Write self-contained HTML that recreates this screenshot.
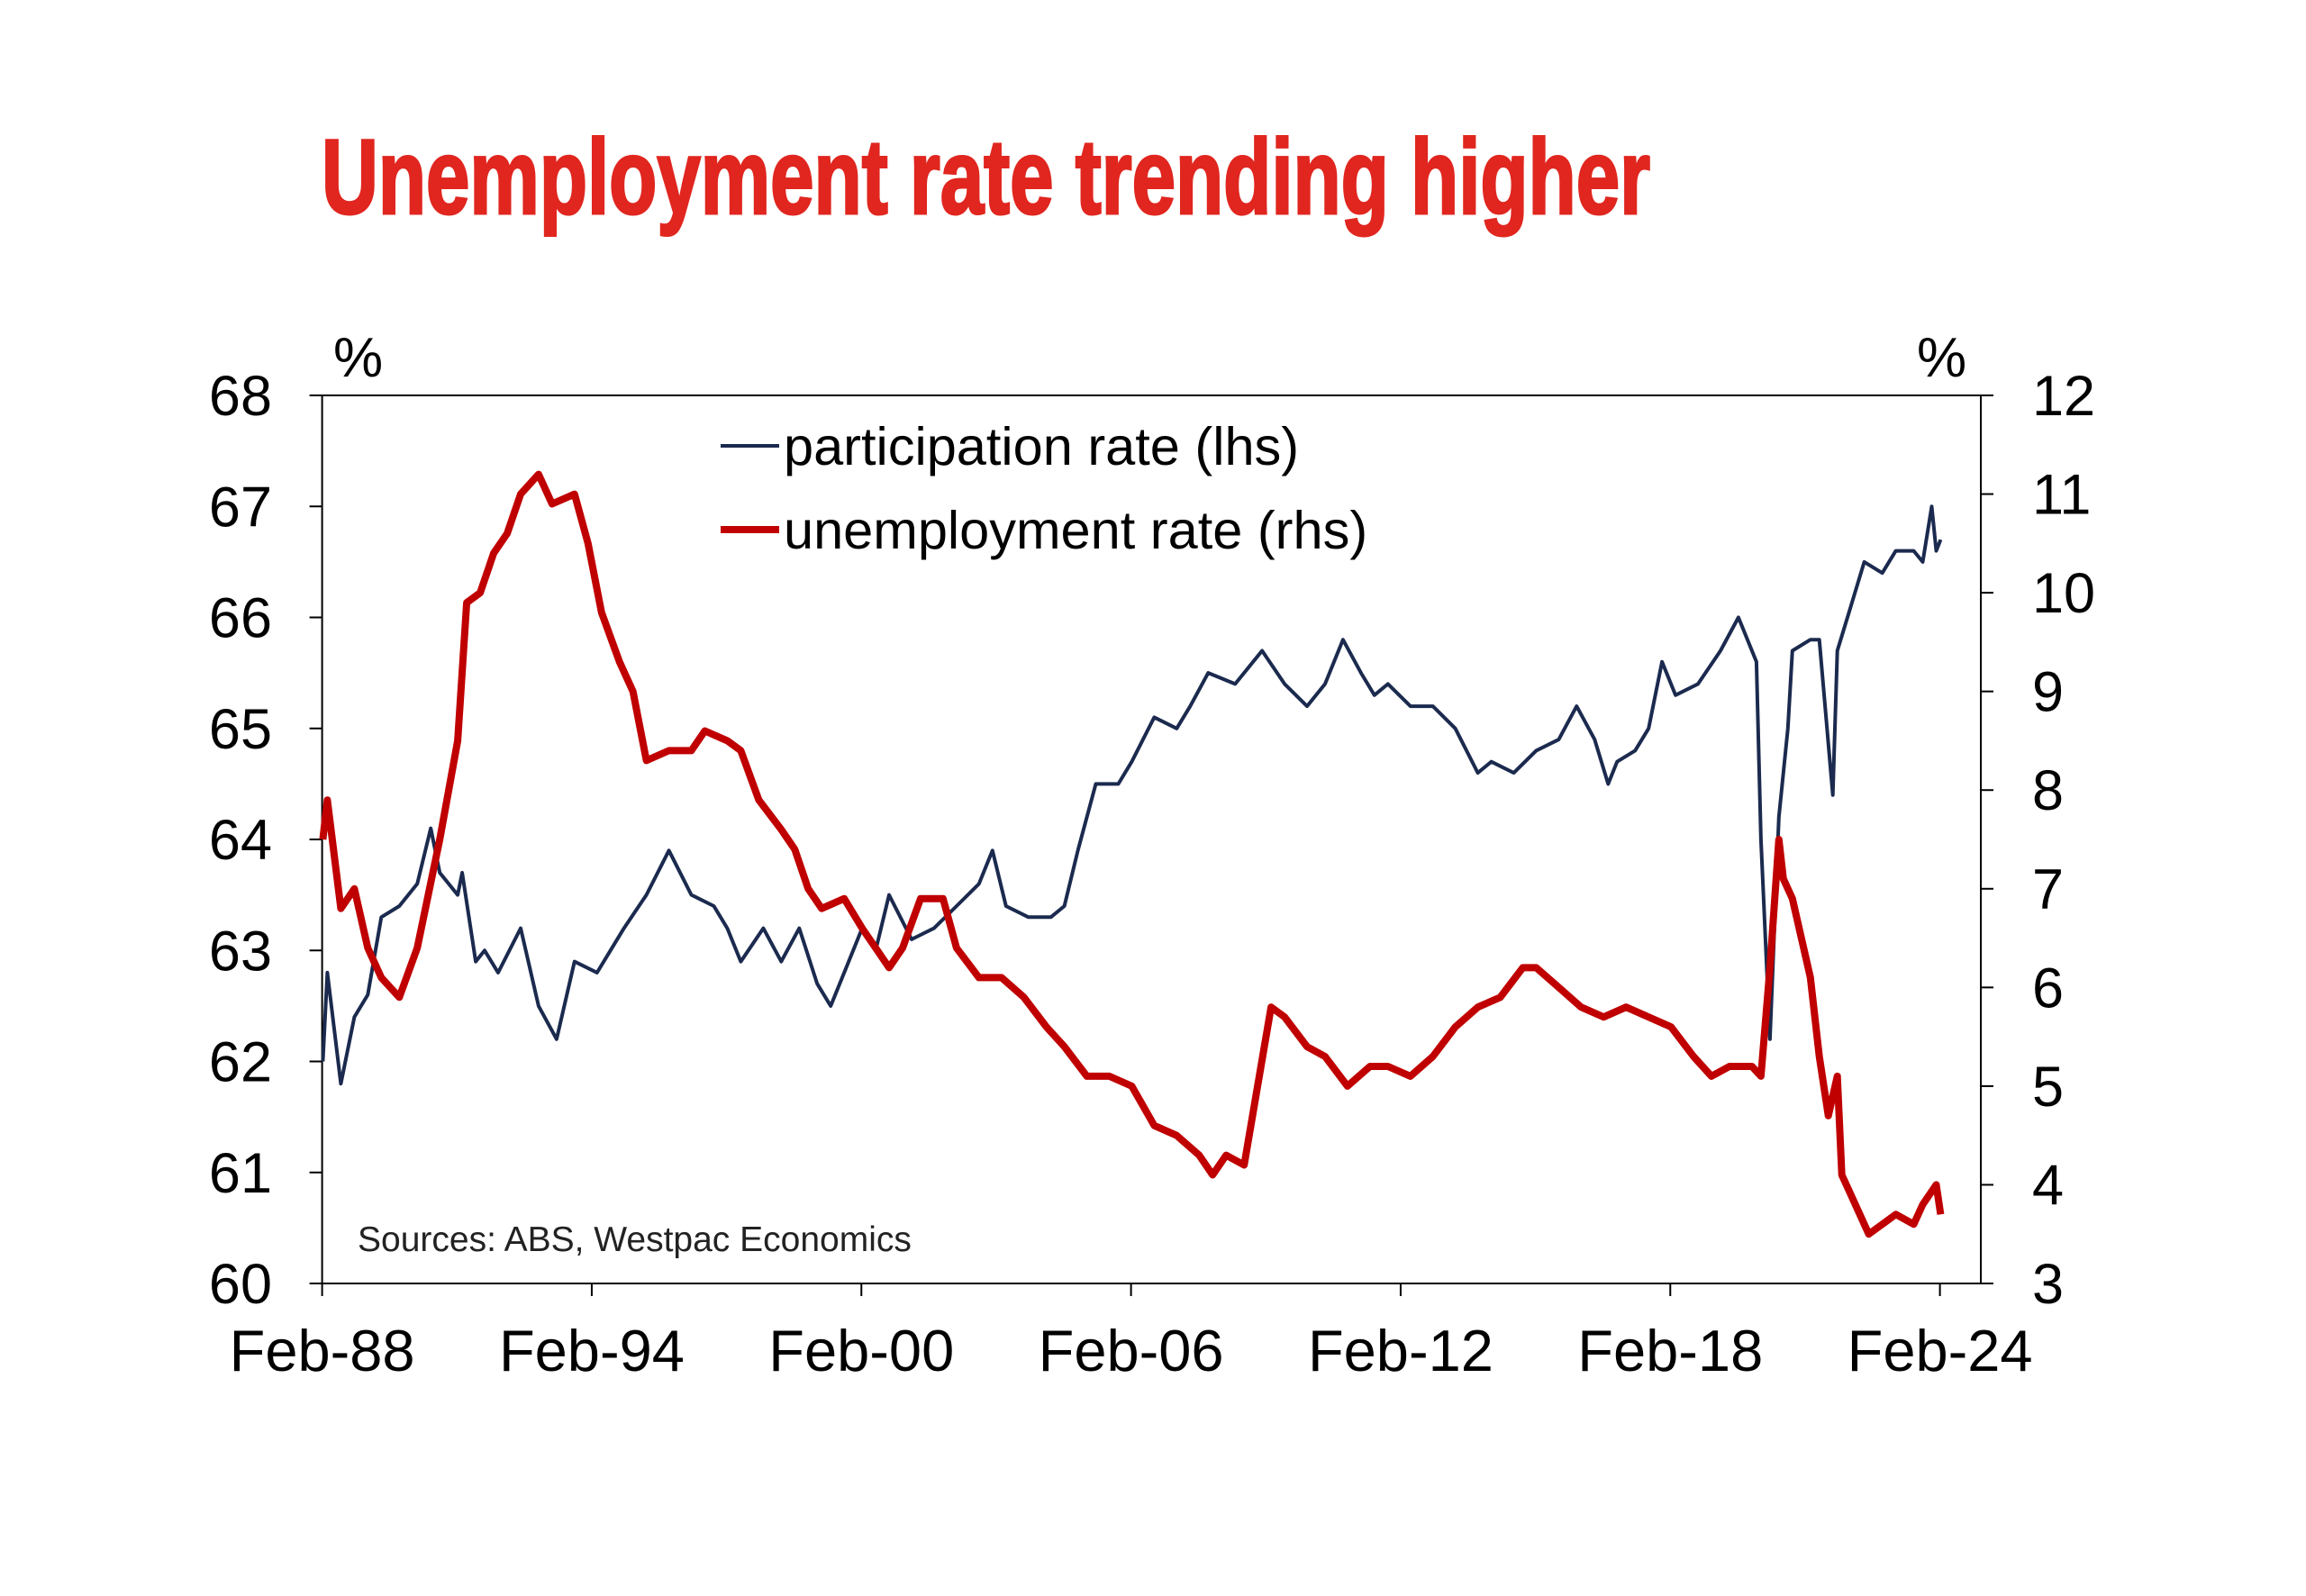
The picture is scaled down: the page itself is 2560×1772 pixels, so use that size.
<!DOCTYPE html>
<html><head><meta charset="utf-8">
<style>
html,body{margin:0;padding:0;background:#fff;}
svg{display:block;font-family:"Liberation Sans",Arial,sans-serif;}
</style></head>
<body>
<svg id="chart" width="2560" height="1772" viewBox="0 0 2560 1772" xmlns="http://www.w3.org/2000/svg">
<rect width="2560" height="1772" fill="#fff"/>
<text x="357" y="237" font-size="118" font-weight="bold" fill="#e0261f" stroke="#e0261f" stroke-width="3" textLength="1475" lengthAdjust="spacingAndGlyphs">Unemployment rate trending higher</text>
<g id="axes"></g>
<g id="series"></g>
</svg>
<script>
const partYears=[1988.1,1988.2,1988.5,1988.8,1989.1,1989.4,1989.8,1990.2,1990.5,1990.7,1991.1,1991.2,1991.5,1991.7,1992.0,1992.5,1992.9,1993.3,1993.7,1994.2,1994.5,1994.8,1995.3,1995.8,1996.3,1996.8,1997.1,1997.4,1997.9,1998.3,1998.7,1999.1,1999.4,1999.7,2000.1,2000.4,2000.7,2001.2,2001.7,2002.2,2002.7,2003.0,2003.3,2003.8,2004.3,2004.6,2004.9,2005.3,2005.8,2006.1,2006.6,2007.1,2007.4,2007.8,2008.4,2009.0,2009.5,2010.0,2010.4,2010.8,2011.2,2011.5,2011.8,2012.3,2012.8,2013.3,2013.8,2014.1,2014.6,2015.1,2015.6,2016.0,2016.4,2016.7,2016.9,2017.3,2017.6,2017.9,2018.2,2018.7,2019.2,2019.6,2020.0,2020.1,2020.3,2020.5,2020.7,2020.8,2021.2,2021.4,2021.7,2021.8,2022.1,2022.4,2022.8,2023.1,2023.5,2023.7,2023.9,2024.0,2024.1];
const partValues=[62.0,62.8,61.8,62.4,62.6,63.3,63.4,63.6,64.1,63.7,63.5,63.7,62.9,63.0,62.8,63.2,62.5,62.2,62.9,62.8,63.0,63.2,63.5,63.9,63.5,63.4,63.2,62.9,63.2,62.9,63.2,62.7,62.5,62.8,63.2,63.0,63.5,63.1,63.2,63.4,63.6,63.9,63.4,63.3,63.3,63.4,63.9,64.5,64.5,64.7,65.1,65.0,65.2,65.5,65.4,65.7,65.4,65.2,65.4,65.8,65.5,65.3,65.4,65.2,65.2,65.0,64.6,64.7,64.6,64.8,64.9,65.2,64.9,64.5,64.7,64.8,65.0,65.6,65.3,65.4,65.7,66.0,65.6,64.0,62.2,64.2,65.0,65.7,65.8,65.8,64.4,65.7,66.1,66.5,66.4,66.6,66.6,66.5,67.0,66.6,66.7];
const unempYears=[1988.1,1988.2,1988.5,1988.8,1989.1,1989.4,1989.8,1990.2,1990.7,1991.1,1991.3,1991.6,1991.9,1992.2,1992.5,1992.9,1993.2,1993.7,1994.0,1994.3,1994.7,1995.0,1995.3,1995.8,1996.3,1996.6,1997.1,1997.4,1997.8,1998.3,1998.6,1998.9,1999.2,1999.7,2000.1,2000.4,2000.7,2001.0,2001.4,2001.9,2002.2,2002.7,2003.2,2003.7,2004.2,2004.6,2005.1,2005.6,2006.1,2006.6,2007.1,2007.6,2007.9,2008.2,2008.6,2008.9,2009.2,2009.5,2010.0,2010.4,2010.9,2011.4,2011.8,2012.3,2012.8,2013.3,2013.8,2014.3,2014.8,2015.1,2015.6,2016.1,2016.6,2017.1,2017.6,2018.1,2018.6,2019.0,2019.4,2019.9,2020.1,2020.3,2020.5,2020.6,2020.8,2021.2,2021.4,2021.6,2021.8,2021.9,2022.1,2022.5,2022.8,2023.1,2023.5,2023.7,2024.0,2024.1];
const unempValues=[7.5,7.9,6.8,7.0,6.4,6.1,5.9,6.4,7.5,8.5,9.9,10.0,10.4,10.6,11.0,11.2,10.9,11.0,10.5,9.8,9.3,9.0,8.3,8.4,8.4,8.6,8.5,8.4,7.9,7.6,7.4,7.0,6.8,6.9,6.6,6.4,6.2,6.4,6.9,6.9,6.4,6.1,6.1,5.9,5.6,5.4,5.1,5.1,5.0,4.6,4.5,4.3,4.1,4.3,4.2,5.0,5.8,5.7,5.4,5.3,5.0,5.2,5.2,5.1,5.3,5.6,5.8,5.9,6.2,6.2,6.0,5.8,5.7,5.8,5.7,5.6,5.3,5.1,5.2,5.2,5.1,6.2,7.5,7.1,6.9,6.1,5.3,4.7,5.1,4.1,3.9,3.5,3.6,3.7,3.6,3.8,4.0,3.7];
const leftTicks=[60,61,62,63,64,65,66,67,68];
const rightTicks=[3,4,5,6,7,8,9,10,11,12];
const xTickYears=[1988.083,1994.083,2000.083,2006.083,2012.083,2018.083,2024.083];
const xTickLabels=["Feb-88","Feb-94","Feb-00","Feb-06","Feb-12","Feb-18","Feb-24"];

const L=357.6,R=2199,T=439,B=1425;
const X0=357.6,X1=2153.6,Y0=1988.083,Y1=2024.083;
const xs=y=>X0+(y-Y0)/(Y1-Y0)*(X1-X0);
const yl=v=>B-(v-60)/8*(B-T);
const yr=v=>B-(v-3)/9*(B-T);
const NS="http://www.w3.org/2000/svg";
function mk(tag,attrs,parent,txt){const e=document.createElementNS(NS,tag);for(const k in attrs)e.setAttribute(k,attrs[k]);if(txt!==undefined)e.textContent=txt;parent.appendChild(e);return e;}
const ax=document.getElementById('axes');
let e;
e=mk('rect',{x:L,y:T,width:R-L,height:B-T,fill:'none',stroke:'#000','stroke-width':2},ax);


leftTicks.forEach(v=>{
 e=mk('line',{x1:L-14,x2:L,y1:yl(v),y2:yl(v),stroke:'#000','stroke-width':2},ax);
 
 
 e=mk('text',{x:302,y:yl(v)+22,'font-size':63,'text-anchor':'end',fill:'#000'},ax,String(v));
 
 
});
rightTicks.forEach(v=>{
 e=mk('line',{x1:R,x2:R+14,y1:yr(v),y2:yr(v),stroke:'#000','stroke-width':2},ax);
 
 
 e=mk('text',{x:2256,y:yr(v)+22,'font-size':63,'text-anchor':'start',fill:'#000'},ax,String(v));
 
 
});
xTickYears.forEach((yv,i)=>{
 e=mk('line',{x1:xs(yv),x2:xs(yv),y1:B,y2:B+14,stroke:'#000','stroke-width':2},ax);
 
 
 e=mk('text',{x:xs(yv),y:1522,'font-size':65,'text-anchor':'middle',fill:'#000'},ax,xTickLabels[i]);
 
 
});
e=mk('text',{x:370,y:418,'font-size':62,fill:'#000'},ax,'%');


e=mk('text',{x:2128,y:418,'font-size':62,fill:'#000'},ax,'%');


e=mk('text',{x:397,y:1389,'font-size':39,fill:'#222'},ax,'Sources: ABS, Westpac Economics');


e=mk('line',{x1:800,x2:865,y1:495,y2:495,stroke:'#1b2a4e','stroke-width':4},ax);


e=mk('text',{x:870,y:516,'font-size':59.5,fill:'#000'},ax,'participation rate (lhs)');


e=mk('line',{x1:800,x2:865,y1:588,y2:588,stroke:'#c00000','stroke-width':8},ax);


e=mk('text',{x:870,y:609,'font-size':59.5,fill:'#000'},ax,'unemployment rate (rhs)');


const sg=document.getElementById('series');
const pd=partYears.map((y,i)=>(i?'L':'M')+xs(y).toFixed(1)+' '+yl(partValues[i]).toFixed(1)).join(' ');
e=mk('path',{d:pd,fill:'none',stroke:'#1b2a4e','stroke-width':4,'stroke-linejoin':'round'},sg);


const ud=unempYears.map((y,i)=>(i?'L':'M')+xs(y).toFixed(1)+' '+yr(unempValues[i]).toFixed(1)).join(' ');
e=mk('path',{d:ud,fill:'none',stroke:'#c00000','stroke-width':8,'stroke-linejoin':'round'},sg);


</script>
</body></html>
